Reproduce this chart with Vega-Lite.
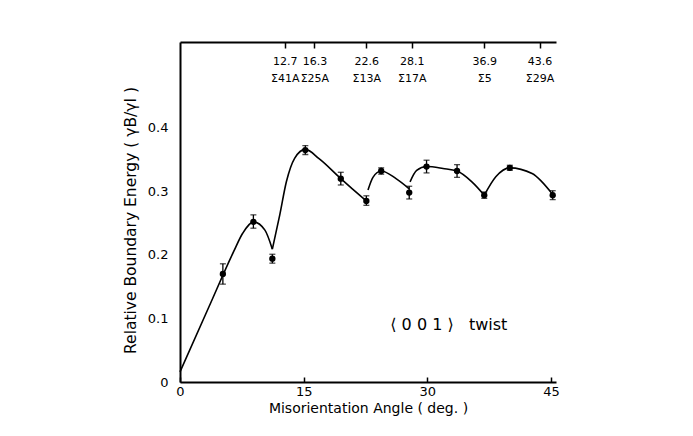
{
  "$schema": "https://vega.github.io/schema/vega-lite/v6.json",
  "autosize": {"type": "none"},
  "padding": {"left": 180, "top": 42, "right": 137, "bottom": 54},
  "width": 376,
  "height": 340,
  "background": "white",
  "config": {
    "view": {"stroke": null},
    "axis": {
      "domainColor": "black",
      "domainWidth": 2,
      "tickColor": "black",
      "labelColor": "black",
      "titleColor": "black",
      "labelFont": "DejaVu Sans",
      "titleFont": "DejaVu Sans",
      "labelFontSize": 13,
      "titleFontSize": 14,
      "titleFontWeight": "normal",
      "grid": false
    }
  },
  "datasets": {
    "points": [
      {"angle": 5.2, "energy": 0.170, "lo": 0.154, "hi": 0.186},
      {"angle": 8.9, "energy": 0.252, "lo": 0.242, "hi": 0.263},
      {"angle": 11.2, "energy": 0.194, "lo": 0.187, "hi": 0.201},
      {"angle": 15.2, "energy": 0.365, "lo": 0.358, "hi": 0.372},
      {"angle": 19.5, "energy": 0.320, "lo": 0.310, "hi": 0.330},
      {"angle": 22.6, "energy": 0.285, "lo": 0.278, "hi": 0.293},
      {"angle": 24.4, "energy": 0.332, "lo": 0.327, "hi": 0.337},
      {"angle": 27.8, "energy": 0.298, "lo": 0.288, "hi": 0.308},
      {"angle": 29.9, "energy": 0.339, "lo": 0.329, "hi": 0.349},
      {"angle": 33.6, "energy": 0.332, "lo": 0.322, "hi": 0.342},
      {"angle": 36.9, "energy": 0.294, "lo": 0.289, "hi": 0.299},
      {"angle": 40.0, "energy": 0.337, "lo": 0.333, "hi": 0.341},
      {"angle": 45.2, "energy": 0.294, "lo": 0.287, "hi": 0.301}
    ],
    "curve": [
      {"seg": 1, "angle": 0.0, "energy": 0.016},
      {"seg": 1, "angle": 3.5, "energy": 0.118},
      {"seg": 1, "angle": 6.5, "energy": 0.205},
      {"seg": 1, "angle": 7.6, "energy": 0.234},
      {"seg": 1, "angle": 8.9, "energy": 0.252},
      {"seg": 1, "angle": 10.3, "energy": 0.239},
      {"seg": 1, "angle": 11.2, "energy": 0.209},
      {"seg": 2, "angle": 11.2, "energy": 0.209},
      {"seg": 2, "angle": 12.1, "energy": 0.263},
      {"seg": 2, "angle": 12.9, "energy": 0.315},
      {"seg": 2, "angle": 13.9, "energy": 0.352},
      {"seg": 2, "angle": 15.2, "energy": 0.366},
      {"seg": 2, "angle": 16.9, "energy": 0.351},
      {"seg": 2, "angle": 19.5, "energy": 0.320},
      {"seg": 2, "angle": 20.9, "energy": 0.304},
      {"seg": 2, "angle": 22.6, "energy": 0.285},
      {"seg": 3, "angle": 22.8, "energy": 0.302},
      {"seg": 3, "angle": 23.4, "energy": 0.322},
      {"seg": 3, "angle": 24.4, "energy": 0.332},
      {"seg": 3, "angle": 26.2, "energy": 0.320},
      {"seg": 3, "angle": 27.8, "energy": 0.304},
      {"seg": 4, "angle": 27.9, "energy": 0.315},
      {"seg": 4, "angle": 28.7, "energy": 0.333},
      {"seg": 4, "angle": 29.9, "energy": 0.339},
      {"seg": 4, "angle": 31.9, "energy": 0.336},
      {"seg": 4, "angle": 33.6, "energy": 0.332},
      {"seg": 4, "angle": 35.4, "energy": 0.315},
      {"seg": 4, "angle": 36.9, "energy": 0.294},
      {"seg": 5, "angle": 36.9, "energy": 0.294},
      {"seg": 5, "angle": 38.3, "energy": 0.323},
      {"seg": 5, "angle": 40.0, "energy": 0.337},
      {"seg": 5, "angle": 42.7, "energy": 0.328},
      {"seg": 5, "angle": 45.2, "energy": 0.295}
    ],
    "note": [
      {"angle": 32.6, "energy": 0.090, "label": "⟨ 0 0 1 ⟩ \u00a0 twist"}
    ]
  },
  "layer": [
    {
      "data": {"name": "curve"},
      "mark": {"type": "line", "color": "black", "strokeWidth": 1.6, "interpolate": "monotone"},
      "encoding": {
        "x": {
          "field": "angle", "type": "quantitative",
          "scale": {"domain": [0, 45.6], "nice": false},
          "axis": {
            "orient": "top",
            "values": [12.7, 16.3, 22.6, 28.1, 36.9, 43.6],
            "domain": true,
            "tickSize": -6,
            "tickWidth": 1.5,
            "labelPadding": -7,
            "labelBaseline": "top",
            "labelLineHeight": 17,
            "labelFontSize": 11,
            "labelFlush": false,
            "labelOverlap": false,
            "labelExpr": "datum.value == 12.7 ? ['12.7', 'Σ41A'] : datum.value == 16.3 ? ['16.3', 'Σ25A'] : datum.value == 22.6 ? ['22.6', 'Σ13A'] : datum.value == 28.1 ? ['28.1', 'Σ17A'] : datum.value == 36.9 ? ['36.9', 'Σ5'] : ['43.6', 'Σ29A']",
            "title": null
          }
        },
        "y": {
          "field": "energy", "type": "quantitative",
          "scale": {"domain": [0, 0.535], "nice": false},
          "axis": {
            "values": [0, 0.1, 0.2, 0.3, 0.4],
            "ticks": false,
            "labelPadding": 12,
            "labelExpr": "datum.value == 0 ? '0' : format(datum.value, '.1f')",
            "title": "Relative Boundary Energy ( γB/γI )",
            "titleFontSize": 15.5,
            "titlePadding": 9,
            "titleY": 178
          }
        },
        "detail": {"field": "seg"}
      }
    },
    {
      "data": {"name": "points"},
      "mark": {"type": "errorbar", "ticks": {"size": 6, "thickness": 1.3, "color": "black"}, "rule": {"strokeWidth": 1.3, "color": "black"}},
      "encoding": {
        "x": {"field": "angle", "type": "quantitative", "axis": null},
        "y": {
          "field": "lo", "type": "quantitative",
          "axis": {
            "values": [0, 0.1, 0.2, 0.3, 0.4],
            "ticks": false,
            "labelPadding": 12,
            "labelExpr": "datum.value == 0 ? '0' : format(datum.value, '.1f')",
            "title": "Relative Boundary Energy ( γB/γI )",
            "titleFontSize": 15.5,
            "titlePadding": 9,
            "titleY": 178
          }
        },
        "y2": {"field": "hi"}
      }
    },
    {
      "data": {"name": "points"},
      "mark": {"type": "point", "filled": true, "color": "black", "size": 40, "opacity": 1},
      "encoding": {
        "x": {
          "field": "angle", "type": "quantitative",
          "axis": {
            "orient": "bottom",
            "values": [0, 15, 30, 45],
            "tickSize": -5,
            "tickWidth": 1.5,
            "labelPadding": 8,
            "labelFlush": false,
            "title": "Misorientation Angle ( deg. )",
            "titlePadding": 3
          }
        },
        "y": {
          "field": "energy", "type": "quantitative",
          "axis": {
            "values": [0, 0.1, 0.2, 0.3, 0.4],
            "ticks": false,
            "labelPadding": 12,
            "labelExpr": "datum.value == 0 ? '0' : format(datum.value, '.1f')",
            "title": "Relative Boundary Energy ( γB/γI )",
            "titleFontSize": 15.5,
            "titlePadding": 9,
            "titleY": 178
          }
        }
      }
    },
    {
      "data": {"name": "note"},
      "mark": {"type": "text", "font": "DejaVu Sans", "fontSize": 16, "color": "black", "align": "center", "baseline": "middle"},
      "encoding": {
        "x": {"field": "angle", "type": "quantitative", "axis": null},
        "y": {
          "field": "energy", "type": "quantitative",
          "axis": {
            "values": [0, 0.1, 0.2, 0.3, 0.4],
            "ticks": false,
            "labelPadding": 12,
            "labelExpr": "datum.value == 0 ? '0' : format(datum.value, '.1f')",
            "title": "Relative Boundary Energy ( γB/γI )",
            "titleFontSize": 15.5,
            "titlePadding": 9,
            "titleY": 178
          }
        },
        "text": {"field": "label"}
      }
    }
  ]
}
